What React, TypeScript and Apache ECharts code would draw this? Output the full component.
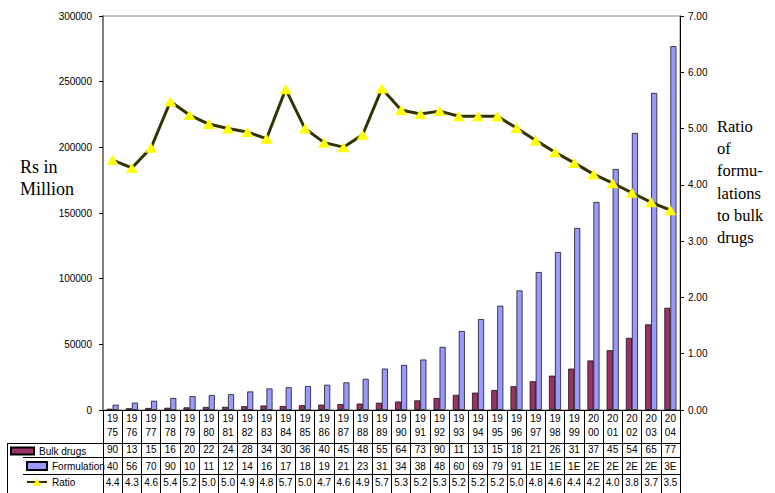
import React, { useEffect, useRef } from "react";
import * as echarts from "echarts";

const years = [
  "1975", "1976", "1977", "1978", "1979", "1980", "1981", "1982", "1983", "1984",
  "1985", "1986", "1987", "1988", "1989", "1990", "1991", "1992", "1993", "1994",
  "1995", "1996", "1997", "1998", "1999", "2000", "2001", "2002", "2003", "2004",
];

// Rs in million
const bulkDrugs = [
  900, 1300, 1500, 1660, 2000, 2250, 2400, 2850, 3400, 3030,
  3630, 4040, 4500, 4840, 5520, 6420, 7300, 9050, 11500, 13200,
  15200, 18100, 21900, 26150, 31500, 37700, 45500, 54900, 65200, 77800,
];

const formulations = [
  4000, 5600, 7000, 9100, 10500, 11400, 12000, 14100, 16400, 17300,
  18200, 19200, 21000, 23700, 31500, 34300, 38400, 48000, 60100, 69200,
  79400, 91000, 105000, 120300, 138600, 158400, 183500, 210900, 241400, 277000,
];

const ratios = [
  4.44, 4.30, 4.66, 5.48, 5.24, 5.08, 5.0, 4.94, 4.82, 5.70,
  5.0, 4.75, 4.67, 4.89, 5.71, 5.33, 5.26, 5.31, 5.22, 5.22,
  5.22, 5.01, 4.79, 4.58, 4.39, 4.19, 4.03, 3.86, 3.69, 3.55,
];

// data table cell texts as displayed (truncated)
const bulkCells = [
  "90", "13", "15", "16", "20", "22", "24", "28", "34", "30",
  "36", "40", "45", "48", "55", "64", "73", "90", "11", "13",
  "15", "18", "21", "26", "31", "37", "45", "54", "65", "77",
];
const formCells = [
  "40", "56", "70", "90", "10", "11", "12", "14", "16", "17",
  "18", "19", "21", "23", "31", "34", "38", "48", "60", "69",
  "79", "91", "1E", "1E", "1E", "2E", "2E", "2E", "2E", "3E",
];
const ratioCells = [
  "4.4", "4.3", "4.6", "5.4", "5.2", "5.0", "5.0", "4.9", "4.8", "5.7",
  "5.0", "4.7", "4.6", "4.9", "5.7", "5.3", "5.2", "5.3", "5.2", "5.2",
  "5.2", "5.0", "4.8", "4.6", "4.4", "4.2", "4.0", "3.8", "3.7", "3.5",
];

const leftTitle = "Rs in\nMillion";
const rightTitle = "Ratio\nof\nformu-\nlations\nto bulk\ndrugs";

const SANS = "'Liberation Sans', Arial, sans-serif";
const SERIF = "'Liberation Serif', 'Times New Roman', serif";

const W = 775;
const H = 493;
const PLOT_L = 103;
const PLOT_R = 680;
const PLOT_T = 16;
const PLOT_B = 410;
const ROW1 = 443;
const ROW2 = 457;
const ROW3 = 474;

function tableAxis(cells: string[], offset: number) {
  return {
    type: "category",
    data: years,
    gridIndex: 0,
    position: "bottom",
    offset,
    axisLine: { show: false },
    axisTick: { show: false },
    splitLine: { show: false },
    axisLabel: {
      interval: 0,
      margin: 0,
      fontSize: 10,
      lineHeight: 12,
      color: "#000",
      fontFamily: SANS,
      hideOverlap: false,
      formatter: (_v: string, i: number) => cells[i],
    },
  };
}

export default function App() {
  const ref = useRef<HTMLDivElement>(null);

  useEffect(() => {
    document.body.style.margin = "0";
    document.body.style.overflow = "hidden";
    if (!ref.current) return;
    const chart = echarts.init(ref.current, undefined, { renderer: "svg" });

    const hLine = (x1: number, y: number, x2: number) => ({
      type: "line",
      shape: { x1, y1: y, x2, y2: y },
      style: { stroke: "#000", lineWidth: 1 },
      silent: true,
    });

    const legendText = { fontSize: 10, color: "#000", fontFamily: SANS };

    const option: any = {
      animation: false,
      textStyle: { fontFamily: SANS },
      title: [
        {
          text: leftTitle,
          left: 20,
          top: 156,
          padding: 0,
          textStyle: {
            fontFamily: SERIF,
            fontSize: 18,
            fontWeight: "normal",
            lineHeight: 21.7,
            color: "#000",
          },
        },
        {
          text: rightTitle,
          left: 717,
          top: 115,
          padding: 0,
          textStyle: {
            fontFamily: SERIF,
            fontSize: 16.5,
            fontWeight: "normal",
            lineHeight: 22.3,
            color: "#000",
          },
        },
      ],
      legend: [
        {
          data: ["Bulk drugs"],
          left: 10,
          top: 446,
          padding: 0,
          icon: "rect",
          itemWidth: 23,
          itemHeight: 7,
          selectedMode: false,
          textStyle: legendText,
        },
        {
          data: ["Formulation"],
          left: 26,
          top: 461,
          padding: 0,
          icon: "rect",
          itemWidth: 20,
          itemHeight: 8,
          selectedMode: false,
          textStyle: legendText,
        },
        {
          data: ["Ratio"],
          left: 26,
          top: 477,
          padding: 0,
          itemWidth: 20,
          itemHeight: 10,
          selectedMode: false,
          textStyle: legendText,
        },
      ],
      grid: {
        left: PLOT_L,
        right: W - PLOT_R,
        top: PLOT_T,
        bottom: H - PLOT_B,
        show: true,
        borderColor: "#808080",
        borderWidth: 1,
        backgroundColor: "transparent",
      },
      xAxis: [
        {
          type: "category",
          data: years,
          gridIndex: 0,
          position: "bottom",
          boundaryGap: true,
          axisLine: { show: true, lineStyle: { color: "#000", width: 1 } },
          axisTick: {
            show: true,
            interval: 0,
            length: H - PLOT_B,
            lineStyle: { color: "#000", width: 1 },
          },
          splitLine: { show: false },
          axisLabel: {
            interval: 0,
            margin: 1,
            fontSize: 10,
            lineHeight: 14,
            color: "#000",
            fontFamily: SANS,
            hideOverlap: false,
            formatter: (v: string) => v.slice(0, 2) + "\n" + v.slice(2),
          },
        },
        tableAxis(bulkCells, 33),
        tableAxis(formCells, 50),
        tableAxis(ratioCells, 66),
      ],
      yAxis: [
        {
          type: "value",
          min: 0,
          max: 300000,
          interval: 50000,
          position: "left",
          axisLine: { show: true, lineStyle: { color: "#808080", width: 2 } },
          axisTick: { show: true, length: 4, lineStyle: { color: "#000" } },
          splitLine: { show: false },
          axisLabel: {
            fontSize: 10,
            color: "#000",
            margin: 11,
            fontFamily: SANS,
            formatter: (v: number) => String(v),
          },
        },
        {
          type: "value",
          min: 0,
          max: 7,
          interval: 1,
          position: "right",
          axisLine: { show: true, lineStyle: { color: "#000", width: 1 } },
          axisTick: { show: true, length: 4, lineStyle: { color: "#000" } },
          splitLine: { show: false },
          axisLabel: {
            fontSize: 10,
            color: "#000",
            margin: 8,
            fontFamily: SANS,
            formatter: (v: number) => v.toFixed(2),
          },
        },
      ],
      series: [
        {
          name: "Bulk drugs",
          type: "bar",
          xAxisIndex: 0,
          yAxisIndex: 0,
          data: bulkDrugs,
          barWidth: 6,
          barGap: "0%",
          itemStyle: { color: "#993366", borderColor: "#000", borderWidth: 0.7 },
        },
        {
          name: "Formulation",
          type: "bar",
          xAxisIndex: 0,
          yAxisIndex: 0,
          data: formulations,
          barWidth: 6,
          barGap: "0%",
          itemStyle: { color: "#9999FF", borderColor: "#000", borderWidth: 0.7 },
        },
        {
          name: "Ratio",
          type: "line",
          xAxisIndex: 0,
          yAxisIndex: 1,
          data: ratios,
          symbol: "triangle",
          symbolSize: [12, 10],
          showAllSymbol: true,
          lineStyle: { color: "#333300", width: 3 },
          itemStyle: { color: "#FFFF00", borderWidth: 0 },
          z: 5,
        },
      ],
      graphic: [
        hLine(7, ROW1 + 0.5, PLOT_R),
        hLine(23, ROW2 + 0.5, PLOT_R),
        hLine(23, ROW3 + 0.5, PLOT_R),
        {
          type: "line",
          shape: { x1: 7.5, y1: ROW1, x2: 7.5, y2: H },
          style: { stroke: "#000", lineWidth: 1 },
          silent: true,
        },
      ],
    };

    chart.setOption(option);
    return () => chart.dispose();
  }, []);

  return <div ref={ref} style={{ width: W, height: H }} />;
}
